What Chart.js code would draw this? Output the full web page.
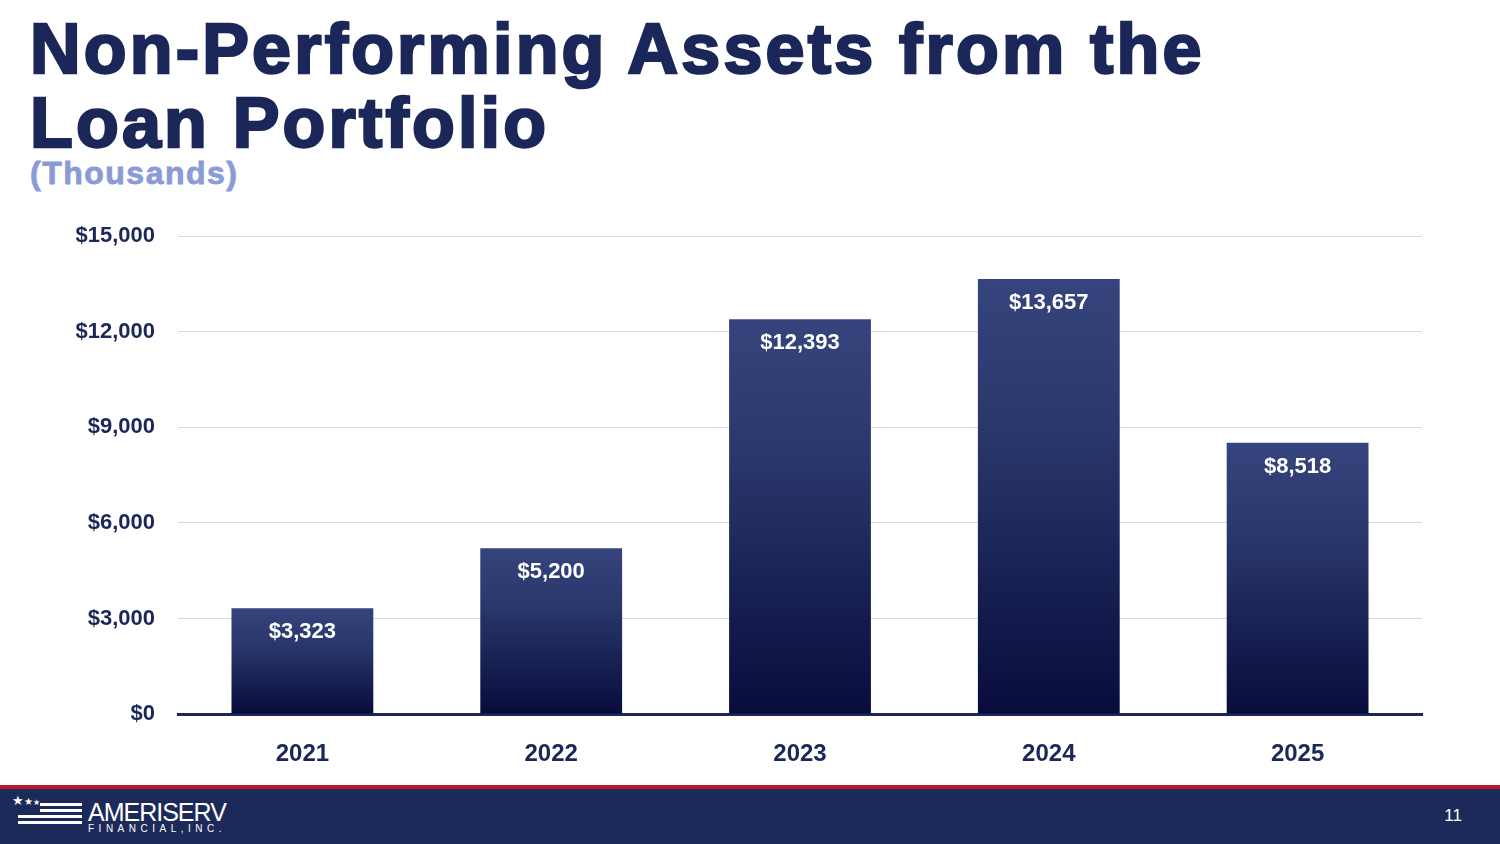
<!DOCTYPE html>
<html>
<head>
<meta charset="utf-8">
<script src="https://cdn.jsdelivr.net/npm/chart.js@4"></script>
<style>
  body { margin: 0; width: 1500px; height: 844px; background: #fff; position: relative; overflow: hidden; font-family: "Liberation Sans", Arial, sans-serif; }
  h1 { position: absolute; left: 30px; top: 12px; margin: 0; font-size: 70px; line-height: 74px; font-weight: 900; color: #1b2759; letter-spacing: 3.2px; -webkit-text-stroke: 2.5px #1b2759; }
  .sub { position: absolute; left: 30px; top: 155px; font-size: 32px; font-weight: bold; color: #8a9bd6; letter-spacing: 1.5px; -webkit-text-stroke: 0.8px #8a9bd6; }
  #wrap { position: absolute; left: 0; top: 200px; width: 1500px; height: 580px; }
  .redline { position: absolute; left: 0; top: 785px; width: 1500px; height: 4px; background: #b5172b; }
  .footer { position: absolute; left: 0; top: 789px; width: 1500px; height: 55px; background: #1c2a5a; color: #fff; }
  .page { position: absolute; right: 38px; top: 17px; font-size: 17px; }
  .logo { position: absolute; left: 88px; top: 9px; font-size: 25px; letter-spacing: -1px; }
  .logo small { display: block; font-size: 10px; letter-spacing: 4.5px; margin-top: -4px; }
  .flag { position: absolute; left: 18px; top: 14px; width: 64px; }
  .flag div { height: 3px; background: #fff; margin-bottom: 3px; }
</style>
</head>
<body>
<h1>Non-Performing Assets from the<br>Loan Portfolio</h1>
<div class="sub">(Thousands)</div>
<div id="wrap"><canvas id="myChart"></canvas></div>
<div class="redline"></div>
<div class="footer">
  <div class="flag"><div style="margin-left:22px"></div><div style="margin-left:22px"></div><div></div><div></div></div>
  <div style="position:absolute;left:12px;top:4px;font-size:13px">★<span style="font-size:10px">★</span><span style="font-size:8px">★</span></div>
  <div class="logo">AMERISERV<small>FINANCIAL,INC.</small></div>
  <div class="page">11</div>
</div>
<script>
const years = ['2021', '2022', '2023', '2024', '2025'];
const assets = [3323, 5200, 12393, 13657, 8518];
const yTicks = [0, 3000, 6000, 9000, 12000, 15000];

const fmt = v => '$' + v.toLocaleString('en-US');

const labelPlugin = {
  id: 'barLabels',
  afterDatasetsDraw(chart) {
    const ctx = chart.ctx;
    ctx.save();
    ctx.fillStyle = '#fff';
    ctx.font = 'bold 22px "Liberation Sans", Arial, sans-serif';
    ctx.textAlign = 'center';
    ctx.textBaseline = 'middle';
    chart.getDatasetMeta(0).data.forEach((bar, i) => {
      ctx.fillText(fmt(assets[i]), bar.x, bar.y + 24);
    });
    ctx.restore();
  }
};

const ctx = document.getElementById('myChart');
new Chart(ctx, {
  type: 'bar',
  data: {
    labels: years,
    datasets: [{
      data: assets,
      backgroundColor(c) {
        const chart = c.chart;
        if (!chart.chartArea) return '#1f2a5e';
        const y = chart.scales.y;
        const top = y.getPixelForValue(assets[c.dataIndex]);
        const bottom = y.getPixelForValue(0);
        const g = chart.ctx.createLinearGradient(0, top, 0, bottom);
        g.addColorStop(0, '#36447d');
        g.addColorStop(0.35, '#2a376c');
        g.addColorStop(1, '#080c3b');
        return g;
      },
      categoryPercentage: 1,
      barPercentage: 0.57
    }]
  },
  plugins: [labelPlugin],
  options: {
    responsive: true,
    maintainAspectRatio: false,
    animation: false,
    layout: { padding: { top: 34, right: 78 } },
    plugins: { legend: { display: false }, tooltip: { enabled: false } },
    scales: {
      x: {
        grid: { display: false },
        border: { color: '#1b2759', width: 3 },
        ticks: { color: '#1b2759', font: { size: 24, weight: 'bold', family: '"Liberation Sans", Arial' }, padding: 18 },
        afterFit(s) { s.height = 66; }
      },
      y: {
        min: 0, max: 15000,
        afterBuildTicks(s) { s.ticks = yTicks.map(v => ({ value: v })); },
        grid: { color: '#d9d9d9', lineWidth: 1, drawTicks: false },
        border: { display: false },
        ticks: { color: '#1b2759', font: { size: 22, weight: 'bold', family: '"Liberation Sans", Arial' }, padding: 23, callback: v => fmt(v) },
        afterFit(s) { s.width = 178; }
      }
    }
  }
});
</script>
</body>
</html>
